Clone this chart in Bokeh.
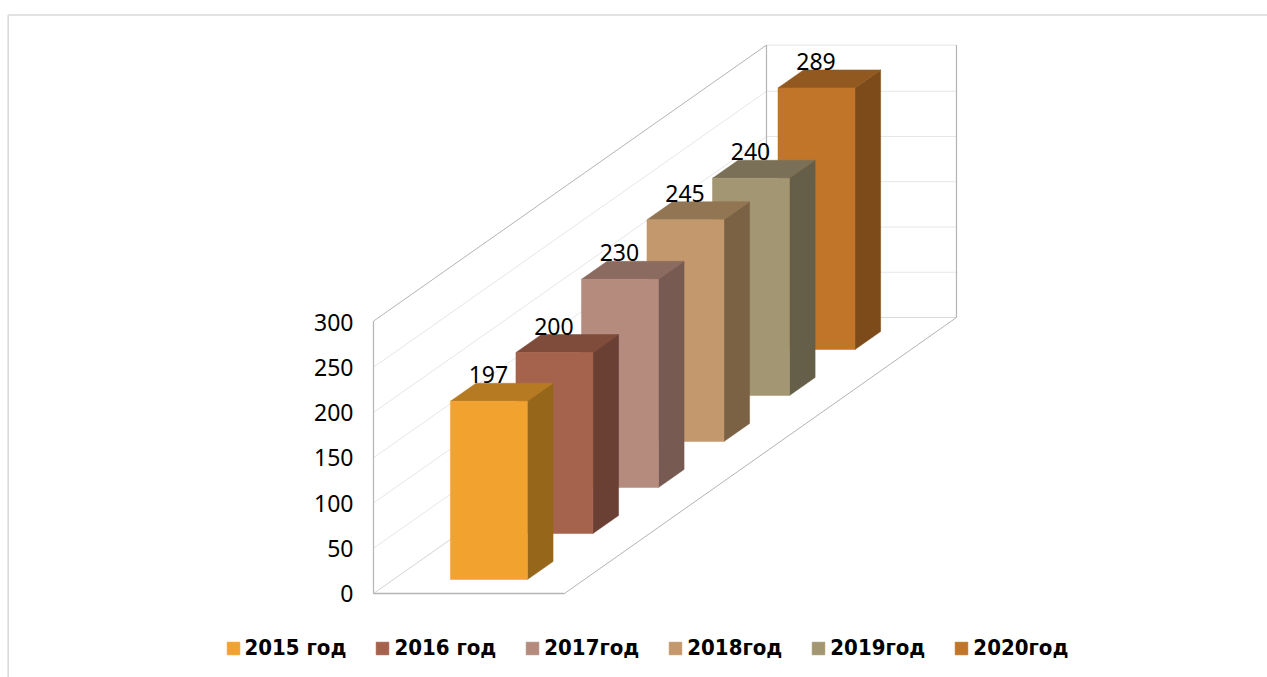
from bokeh.plotting import figure
from bokeh.models import Range1d, Legend, LegendItem
from bokeh.core.properties import value
from bokeh.embed import file_html
from bokeh.resources import INLINE

# ---- data
years = ["2015 год", "2016 год", "2017год", "2018год", "2019год", "2020год"]
values = [197, 200, 230, 245, 240, 289]
ticks = [0, 50, 100, 150, 200, 250, 300]
colors = ["#f2a22f", "#a5634d", "#b58b7e", "#c4986d", "#a39672", "#c17528"]
top_colors = ["#b57a22", "#7f4c3b", "#8b6a60", "#927552", "#7a7057", "#915820"]
side_colors = ["#96661b", "#6b4034", "#775b53", "#7b6245", "#655e49", "#7d4b1a"]

# ---- oblique projection: x is in picture pixels, y is in value units
W, H = 1267, 677
UNIT = 0.905                    # pixels per value unit
FLOOR_PX = 593                  # picture row of value 0
FRONT_X = 373                   # left edge of the chart's front
FLOOR_W = 191                   # width of the floor
DEPTH_X = 393                   # horizontal shift, front to back
DEPTH_Y = 276 / UNIT            # rise, front to back, in value units
AXIS_TOP = 301
BAR_X0 = 430
BAR_W = 77
BAR_D0 = 0.0507
BAR_DSTEP = 0.1667
BAR_DEPTH = 0.0652
FONT = "Noto Sans"
GRID = "#e6e6e6"
EDGE = "#b4b4b4"

y_low = (FLOOR_PX - H) / UNIT
y_high = FLOOR_PX / UNIT


def dx(d):
    return DEPTH_X * d


def dy(d):
    return DEPTH_Y * d


p = figure(width=W, height=H, output_backend="svg", toolbar_location=None,
           x_range=Range1d(0, W), y_range=Range1d(y_low, y_high),
           min_border=0, outline_line_color=None, background_fill_color="white",
           border_fill_color="white")
p.axis.visible = False
p.grid.visible = False

# page frame around the picture
frame_top = (FLOOR_PX - 14.5) / UNIT
p.line([7.7, 7.7, W], [y_low, frame_top, frame_top], line_color="#d9d9d9", line_width=1.6)

# gridlines on both walls
xb = FRONT_X + DEPTH_X
for t in ticks[1:-1]:
    p.line([FRONT_X, xb, xb + FLOOR_W - 1], [t, t + DEPTH_Y, t + DEPTH_Y], line_color=GRID, line_width=1)
p.line([xb, xb + FLOOR_W - 1], [AXIS_TOP + DEPTH_Y] * 2, line_color=GRID, line_width=1)
p.line([xb, xb + FLOOR_W - 1], [DEPTH_Y, DEPTH_Y], line_color="#d9d9d9", line_width=1.2)

# wall and floor edges
p.line([FRONT_X, FRONT_X + FLOOR_W], [0, 0], line_color=EDGE, line_width=1.3)
p.line([FRONT_X, FRONT_X], [0, AXIS_TOP], line_color=EDGE, line_width=1.2)
p.line([FRONT_X, xb], [AXIS_TOP, AXIS_TOP + DEPTH_Y], line_color=EDGE, line_width=1)
p.line([FRONT_X, xb], [0, DEPTH_Y], line_color="#c8c8c8", line_width=0.8)
p.line([xb, xb], [DEPTH_Y, AXIS_TOP + DEPTH_Y], line_color=EDGE, line_width=1.2)
p.line([xb + FLOOR_W - 1] * 2, [DEPTH_Y, AXIS_TOP + DEPTH_Y], line_color=EDGE, line_width=1.2)
p.line([FRONT_X + FLOOR_W, xb + FLOOR_W - 1], [0, DEPTH_Y], line_color="#a0a0a0", line_width=0.8)

# bars, back to front so the nearer ones cover the farther ones
fronts = {}
for i in reversed(range(len(values))):
    d = BAR_D0 + i * BAR_DSTEP
    x0 = BAR_X0 + dx(d)
    x1 = x0 + BAR_W
    y0 = dy(d)
    y1 = y0 + values[i]
    sx, sy = dx(BAR_DEPTH), dy(BAR_DEPTH)
    p.patch([x1, x1 + sx, x1 + sx, x1], [y0, y0 + sy, y1 + sy, y1], fill_color=side_colors[i], line_color=side_colors[i], line_width=0.5)
    p.patch([x0, x1, x1 + sx, x0 + sx], [y1, y1, y1 + sy, y1 + sy], fill_color=top_colors[i], line_color=top_colors[i], line_width=0.5)
    fronts[i] = p.quad(left=x0, right=x1, bottom=y0, top=y1, fill_color=colors[i], line_color=colors[i], line_width=0.5)

# data labels
for i, v in enumerate(values):
    d = BAR_D0 + i * BAR_DSTEP
    p.text([BAR_X0 + dx(d) + BAR_W / 2 - 0.5], [dy(d) + v + dy(BAR_DEPTH)], text=[str(v)],
           text_align="center", text_baseline="bottom", text_color="black",
           text_font=value(FONT), text_font_size="23px")

# value axis labels
p.text([353] * len(ticks), ticks, text=[str(t) for t in ticks], text_align="right",
       text_baseline="middle", text_color="black", text_font=value(FONT), text_font_size="23px")

legend = Legend(items=[LegendItem(label=y, renderers=[fronts[i]]) for i, y in enumerate(years)],
                orientation="horizontal", location=(224.5, 17), glyph_width=16, glyph_height=16,
                label_standoff=4, spacing=28, padding=0, margin=0, border_line_alpha=0,
                background_fill_alpha=0, label_text_font="DejaVu Sans Condensed",
                label_text_font_style="bold", label_text_font_size="22px", label_text_color="black",
                label_height=20)
p.add_layout(legend, "center")

open("out.html", "w").write(file_html(p, INLINE))
